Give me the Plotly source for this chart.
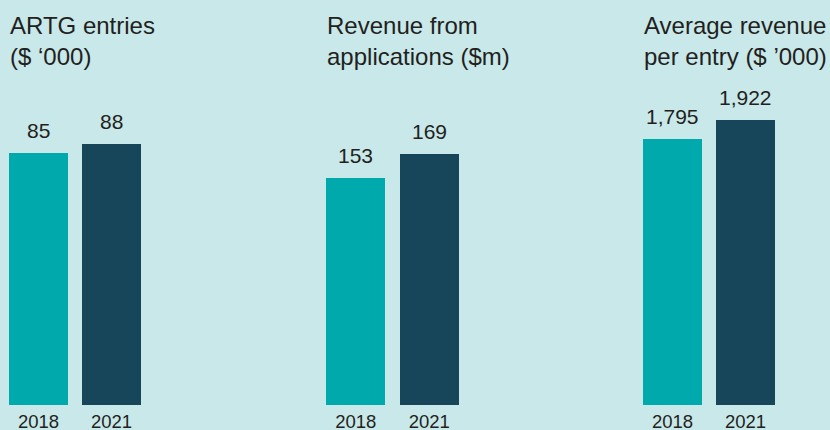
import plotly.graph_objects as go

years = ["2018", "2021"]
titles = ["ARTG entries<br>($ ‘000)", "Revenue from<br>applications ($m)", "Average revenue<br>per entry ($ ’000)"]
artg_entries = [85, 88]
revenue_applications = [153, 169]
avg_revenue_per_entry = [1795, 1922]

series = [artg_entries, revenue_applications, avg_revenue_per_entry]
ranges = [136.5, 272.8, 2732]

W, H = 830, 430
bg = "#c8e8e9"
teal = "#00a9ab"
navy = "#17465a"
txt = "#231f20"
font = "Liberation Sans"

# pixel domains for each panel (left, right)
xdom_px = [(2, 148), (319, 466), (636, 782)]
title_x_px = [8, 325, 642]
y_bottom = (H - 405) / H

fig = go.Figure()
for i, vals in enumerate(series):
    n = "" if i == 0 else str(i + 1)
    fig.add_trace(go.Bar(
        x=years, y=vals, xaxis="x" + n, yaxis="y" + n,
        marker=dict(color=[teal, navy], line=dict(width=0)),
        width=0.808, hoverinfo="skip", showlegend=False,
    ))
    fig.layout["xaxis" + n] = dict(
        domain=[xdom_px[i][0] / W, xdom_px[i][1] / W], anchor="y" + n,
        type="category", range=[-0.5, 1.5], showgrid=False, zeroline=False,
        showline=False, ticks="", ticklabelstandoff=3, automargin=False,
        tickfont=dict(size=18.5, color=txt, family=font),
        fixedrange=True,
    )
    fig.layout["yaxis" + n] = dict(
        domain=[y_bottom, 1], anchor="x" + n, range=[0, ranges[i]],
        visible=False, fixedrange=True, automargin=False,
    )
    for k, v in enumerate(vals):
        fig.add_annotation(
            x=k, y=v, xref="x" + n, yref="y" + n, text=f"{v:,}",
            showarrow=False, yanchor="bottom", xanchor="center", yshift=9,
            font=dict(size=21, color=txt, family=font),
        )
    fig.add_annotation(
        x=title_x_px[i] / W, y=1 - 10 / H, xref="paper", yref="paper",
        text=titles[i], showarrow=False, xanchor="left", yanchor="top", align="left",
        font=dict(size=24, color=txt, family=font),
    )

fig.update_layout(
    width=W, height=H, margin=dict(l=0, r=0, t=0, b=0),
    paper_bgcolor=bg, plot_bgcolor=bg, bargap=0,
)
fig.write_html("out.html", config={"displayModeBar": False},
               post_script="document.body.style.margin='0';document.body.style.overflow='hidden';")
